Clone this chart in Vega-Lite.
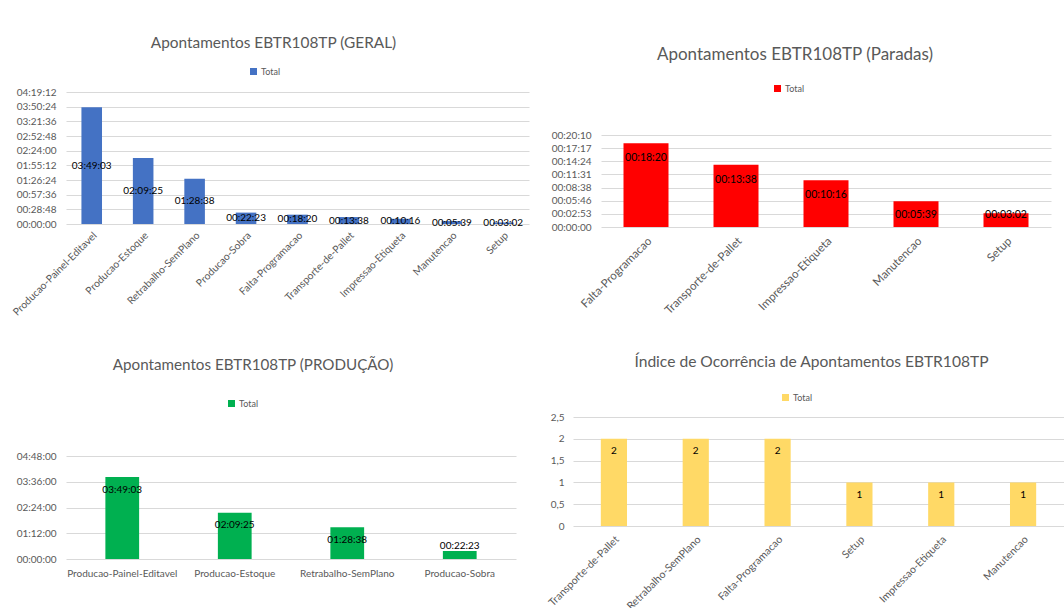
{
  "$schema": "https://vega.github.io/schema/vega-lite/v6.json",
  "background": "white",
  "padding": {"top": 35, "left": 11, "right": 0, "bottom": 0},
  "datasets": {
    "geral": [
      {"cat": "Producao-Painel-Editavel", "sec": 13743, "label": "03:49:03"},
      {"cat": "Producao-Estoque", "sec": 7765, "label": "02:09:25"},
      {"cat": "Retrabalho-SemPlano", "sec": 5318, "label": "01:28:38"},
      {"cat": "Producao-Sobra", "sec": 1343, "label": "00:22:23"},
      {"cat": "Falta-Programacao", "sec": 1100, "label": "00:18:20"},
      {"cat": "Transporte-de-Pallet", "sec": 818, "label": "00:13:38"},
      {"cat": "Impressao-Etiqueta", "sec": 616, "label": "00:10:16"},
      {"cat": "Manutencao", "sec": 339, "label": "00:05:39"},
      {"cat": "Setup", "sec": 182, "label": "00:03:02"}
    ],
    "paradas": [
      {"cat": "Falta-Programacao", "sec": 1100, "label": "00:18:20"},
      {"cat": "Transporte-de-Pallet", "sec": 818, "label": "00:13:38"},
      {"cat": "Impressao-Etiqueta", "sec": 616, "label": "00:10:16"},
      {"cat": "Manutencao", "sec": 339, "label": "00:05:39"},
      {"cat": "Setup", "sec": 182, "label": "00:03:02"}
    ],
    "producao": [
      {"cat": "Producao-Painel-Editavel", "sec": 13743, "label": "03:49:03"},
      {"cat": "Producao-Estoque", "sec": 7765, "label": "02:09:25"},
      {"cat": "Retrabalho-SemPlano", "sec": 5318, "label": "01:28:38"},
      {"cat": "Producao-Sobra", "sec": 1343, "label": "00:22:23"}
    ],
    "contagem": [
      {"cat": "Transporte-de-Pallet", "n": 2},
      {"cat": "Retrabalho-SemPlano", "n": 2},
      {"cat": "Falta-Programacao", "n": 2},
      {"cat": "Setup", "n": 1},
      {"cat": "Impressao-Etiqueta", "n": 1},
      {"cat": "Manutencao", "n": 1}
    ]
  },
  "spacing": 37,
  "resolve": {"scale": {"color": "independent"}, "legend": {"color": "independent"}},
  "vconcat": [
    {
      "spacing": 22,
      "resolve": {"scale": {"color": "independent"}, "legend": {"color": "independent"}},
      "hconcat": [
        {
          "width": 463, "height": 132,
          "title": {"text": "Apontamentos EBTR108TP (GERAL)", "fontSize": 15.4, "dx": -24, "offset": 16},
          "data": {"name": "geral"},
          "layer": [
            {
              "mark": {"type": "bar", "width": {"band": 0.4}},
              "encoding": {
                "x": {"field": "cat", "type": "nominal", "sort": null, "title": null,
                      "scale": {"paddingInner": 0, "paddingOuter": 0},
                      "axis": {"labelAngle": -45, "labelFontSize": 10.3, "labelPadding": 6, "domain": false}},
                "y": {"field": "sec", "type": "quantitative", "title": null,
                      "scale": {"domain": [0, 15552], "nice": false},
                      "axis": {"values": [0, 1728, 3456, 5184, 6912, 8640, 10368, 12096, 13824, 15552],
                               "labelExpr": "utcFormat(round(datum.value)*1000, '%H:%M:%S')",
                               "domain": false, "grid": true, "labelPadding": 10, "labelFontSize": 10}},
                "color": {"datum": "Total", "type": "nominal", "scale": {"range": ["#4472C4"]},
                          "legend": {"orient": "none", "legendX": 183, "legendY": -25, "title": null}}
              }
            },
            {
              "mark": {"type": "text", "baseline": "middle", "fontSize": 10, "color": "#000000"},
              "encoding": {
                "x": {"field": "cat", "type": "nominal", "sort": null},
                "y": {"field": "sec", "type": "quantitative", "scale": {"domain": [0, 31104], "nice": false}, "axis": null},
                "text": {"field": "label"}
              }
            }
          ],
          "resolve": {"scale": {"y": "independent"}}
        },
        {
          "width": 450, "height": 135,
          "title": {"text": "Apontamentos EBTR108TP (Paradas)", "fontSize": 17, "dx": -31, "offset": 20},
          "data": {"name": "paradas"},
          "layer": [
            {
              "mark": {"type": "bar", "width": {"band": 0.5}},
              "encoding": {
                "x": {"field": "cat", "type": "nominal", "sort": null, "title": null,
                      "scale": {"paddingInner": 0, "paddingOuter": 0},
                      "axis": {"labelAngle": -45, "labelFontSize": 11.5, "labelPadding": 8, "domain": false}},
                "y": {"field": "sec", "type": "quantitative", "title": null,
                      "scale": {"domain": [0, 1775], "nice": false},
                      "axis": {"values": [0, 172.8, 345.6, 518.4, 691.2, 864, 1036.8, 1209.6],
                               "labelExpr": "utcFormat(round(datum.value)*1000, '%H:%M:%S')",
                               "domain": false, "grid": true, "labelPadding": 10, "labelFontSize": 10}},
                "color": {"datum": "Total", "type": "nominal", "scale": {"range": ["#FF0000"]},
                          "legend": {"orient": "none", "legendX": 172, "legendY": -8, "title": null}}
              }
            },
            {
              "mark": {"type": "text", "baseline": "middle", "fontSize": 10.5, "color": "#000000", "dy": 15},
              "encoding": {
                "x": {"field": "cat", "type": "nominal", "sort": null},
                "y": {"field": "sec", "type": "quantitative", "scale": {"domain": [350, 1775], "range": [108.38, 0], "clamp": true, "nice": false, "zero": false}, "axis": null},
                "text": {"field": "label"}
              }
            }
          ],
          "resolve": {"scale": {"y": "independent"}}
        }
      ]
    },
    {
      "spacing": 30,
      "resolve": {"scale": {"color": "independent"}, "legend": {"color": "independent"}},
      "hconcat": [
        {
          "width": 450, "height": 142,
          "title": {"text": "Apontamentos EBTR108TP (PRODUÇÃO)", "fontSize": 15.2, "dx": -38, "offset": 26},
          "data": {"name": "producao"},
          "layer": [
            {
              "mark": {"type": "bar", "width": {"band": 0.3}},
              "encoding": {
                "x": {"field": "cat", "type": "nominal", "sort": null, "title": null,
                      "scale": {"paddingInner": 0, "paddingOuter": 0},
                      "axis": {"labelAngle": 0, "labelFontSize": 10, "labelPadding": 9, "domain": false}},
                "y": {"field": "sec", "type": "quantitative", "title": null,
                      "scale": {"domain": [0, 23823], "nice": false},
                      "axis": {"values": [0, 4320, 8640, 12960, 17280],
                               "labelExpr": "utcFormat(round(datum.value)*1000, '%H:%M:%S')",
                               "domain": false, "grid": true, "labelPadding": 10, "labelFontSize": 10}},
                "color": {"datum": "Total", "type": "nominal", "scale": {"range": ["#00B050"]},
                          "legend": {"orient": "none", "legendX": 161, "legendY": -18, "title": null}}
              }
            },
            {
              "mark": {"type": "text", "baseline": "middle", "fontSize": 10, "color": "#000000", "dy": 12.5},
              "encoding": {
                "x": {"field": "cat", "type": "nominal", "sort": null},
                "y": {"field": "sec", "type": "quantitative", "scale": {"domain": [4278, 23823], "range": [116.5, 0], "clamp": true, "nice": false, "zero": false}, "axis": null},
                "text": {"field": "label"}
              }
            }
          ],
          "resolve": {"scale": {"y": "independent"}}
        },
        {
          "width": 491, "height": 109,
          "title": {"text": "Índice de Ocorrência de Apontamentos EBTR108TP", "fontSize": 15.6, "dx": -7, "offset": 22},
          "data": {"name": "contagem"},
          "layer": [
            {
              "mark": {"type": "bar", "width": {"band": 0.32}},
              "encoding": {
                "x": {"field": "cat", "type": "nominal", "sort": null, "title": null,
                      "scale": {"paddingInner": 0, "paddingOuter": 0},
                      "axis": {"labelAngle": -45, "labelFontSize": 10.5, "labelPadding": 8, "domain": false}},
                "y": {"field": "n", "type": "quantitative", "title": null,
                      "scale": {"domain": [0, 2.5], "nice": false},
                      "axis": {"values": [0, 0.5, 1, 1.5, 2, 2.5],
                               "labelExpr": "replace(format(datum.value, '~g'), '.', ',')",
                               "domain": false, "grid": true, "labelPadding": 9, "labelFontSize": 10}},
                "color": {"datum": "Total", "type": "nominal", "scale": {"range": ["#FFD966"]},
                          "legend": {"orient": "none", "legendX": 208, "legendY": -24, "title": null}}
              }
            },
            {
              "mark": {"type": "text", "baseline": "middle", "fontSize": 10, "color": "#000000", "dy": 12.5},
              "encoding": {
                "x": {"field": "cat", "type": "nominal", "sort": null},
                "y": {"field": "n", "type": "quantitative", "scale": {"domain": [0, 2.5], "nice": false}, "axis": null},
                "text": {"field": "n"}
              }
            }
          ],
          "resolve": {"scale": {"y": "independent"}}
        }
      ]
    }
  ],
  "config": {
    "font": "Lato",
    "view": {"stroke": null},
    "axis": {"labelColor": "#595959", "labelFont": "Lato", "gridColor": "#d9d9d9", "gridWidth": 1, "ticks": false, "labelFlush": false, "labelOverlap": false, "labelBound": false},
    "title": {"color": "#595959", "font": "Lato", "fontWeight": "normal", "anchor": "middle"},
    "legend": {"labelFont": "Lato", "labelFontSize": 9, "labelColor": "#595959", "symbolType": "square", "symbolSize": 49, "labelOffset": 3, "padding": 0},
    "text": {"font": "Lato"}
  }
}
